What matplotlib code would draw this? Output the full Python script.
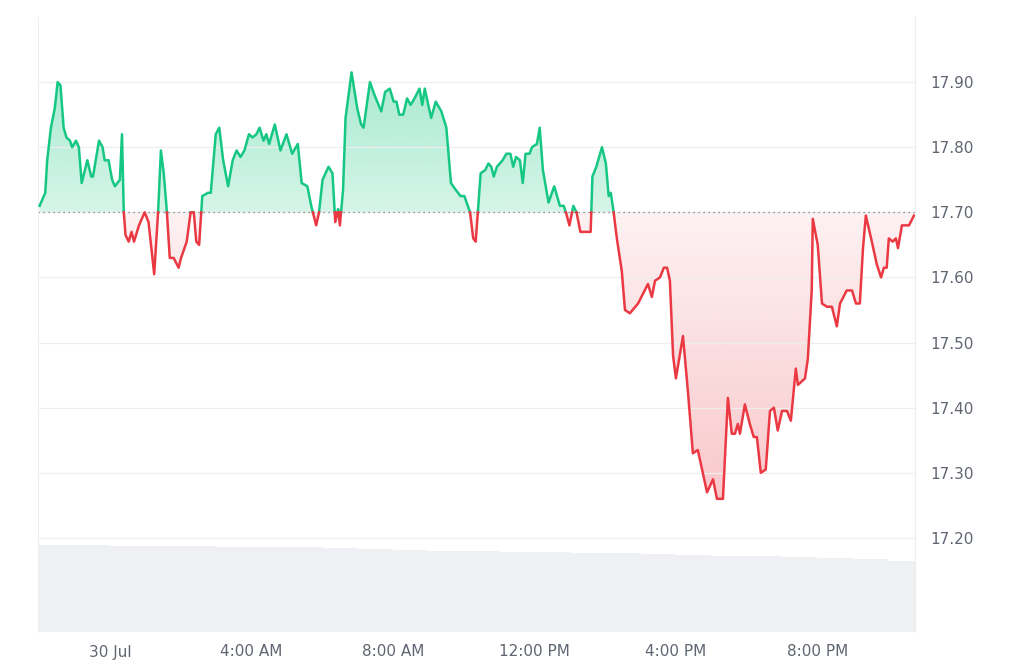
import numpy as np
import matplotlib
matplotlib.use("Agg")
import matplotlib.pyplot as plt
from matplotlib.patches import Polygon

# price series, hours since 30 Jul 00:00
hours = [-1.99, -1.83, -1.775, -1.67, -1.56, -1.48, -1.40, -1.31, -1.23, -1.13, -1.07, -0.96, -0.88,
         -0.80, -0.64, -0.53, -0.48, -0.31, -0.21, -0.15, -0.04, 0.06, 0.14, 0.28, 0.34, 0.39, 0.44,
         0.53, 0.61, 0.68, 0.82, 0.98, 1.09, 1.25, 1.36, 1.44, 1.52, 1.61, 1.69, 1.80, 1.94, 2.01,
         2.17, 2.28, 2.37, 2.44, 2.52, 2.61, 2.77, 2.85, 2.99, 3.09, 3.20, 3.34, 3.47, 3.58, 3.69,
         3.80, 3.93, 4.03, 4.14, 4.23, 4.34, 4.42, 4.50, 4.66, 4.82, 4.99, 5.15, 5.31, 5.42, 5.58,
         5.69, 5.83, 5.91, 6.01, 6.18, 6.29, 6.37, 6.45, 6.50, 6.59, 6.66, 6.83, 6.99, 7.10, 7.17,
         7.35, 7.48, 7.67, 7.78, 7.91, 8.02, 8.10, 8.18, 8.29, 8.40, 8.50, 8.61, 8.75, 8.83, 8.90,
         9.08, 9.21, 9.37, 9.51, 9.64, 9.77, 9.91, 10.02, 10.18, 10.27, 10.34, 10.48, 10.61, 10.70,
         10.78, 10.85, 10.94, 11.10, 11.21, 11.32, 11.40, 11.48, 11.59, 11.67, 11.75, 11.86, 11.93,
         12.07, 12.15, 12.24, 12.40, 12.56, 12.72, 12.83, 12.89, 12.99, 13.10, 13.19, 13.30, 13.48,
         13.59, 13.64, 13.75, 13.91, 14.02, 14.10, 14.16, 14.24,
         14.33, 14.47, 14.56, 14.70, 14.93, 15.21, 15.32, 15.41, 15.55, 15.66, 15.75, 15.83, 15.92,
         16.00, 16.20, 16.34, 16.48, 16.62, 16.88, 17.05, 17.16, 17.33, 17.47, 17.58, 17.67, 17.75,
         17.81, 17.95, 18.09, 18.20, 18.29, 18.40, 18.54, 18.66, 18.77, 18.88, 19.00, 19.14, 19.25,
         19.39, 19.45, 19.65, 19.73, 19.84, 19.87, 20.01, 20.13, 20.27, 20.41, 20.55, 20.64, 20.83,
         20.98, 21.09, 21.20, 21.29, 21.37, 21.54, 21.68, 21.80, 21.88, 21.96, 22.02, 22.13, 22.22,
         22.28, 22.39, 22.47, 22.59, 22.73]
prices = [17.71, 17.73, 17.78, 17.83, 17.86, 17.90, 17.895, 17.83, 17.815, 17.81, 17.80, 17.81, 17.80,
          17.745, 17.78, 17.755, 17.755, 17.81, 17.80, 17.78, 17.78, 17.75, 17.74, 17.75, 17.82, 17.70,
          17.665, 17.655, 17.67, 17.655, 17.68, 17.70, 17.685, 17.605, 17.70, 17.795, 17.76, 17.70,
          17.63, 17.63, 17.615, 17.63, 17.655, 17.70, 17.70, 17.655, 17.65, 17.725, 17.73, 17.73,
          17.82, 17.83, 17.78, 17.74, 17.78, 17.795, 17.785, 17.795, 17.82, 17.815, 17.82, 17.83,
          17.81, 17.82, 17.805, 17.835, 17.795, 17.82, 17.79, 17.805, 17.745, 17.74, 17.71, 17.68,
          17.70, 17.75, 17.77, 17.76, 17.685, 17.705, 17.68, 17.735, 17.845, 17.915, 17.86, 17.835,
          17.83, 17.90, 17.88, 17.855, 17.885, 17.89, 17.87, 17.87, 17.85, 17.85, 17.875, 17.865,
          17.875, 17.89, 17.865, 17.89, 17.845, 17.87, 17.855, 17.83, 17.745, 17.735, 17.725, 17.725,
          17.70, 17.66, 17.655, 17.76, 17.765, 17.775, 17.77, 17.755, 17.77, 17.78, 17.79, 17.79,
          17.77, 17.785, 17.78, 17.745, 17.79, 17.79, 17.80, 17.805, 17.83, 17.765, 17.715, 17.74,
          17.71, 17.71, 17.70, 17.68, 17.71, 17.70, 17.67, 17.67, 17.67, 17.755, 17.77, 17.80,
          17.775, 17.725, 17.73, 17.70,
          17.66, 17.61, 17.55, 17.545, 17.56, 17.59, 17.57, 17.595, 17.60, 17.615, 17.615, 17.595,
          17.48, 17.445, 17.51, 17.425, 17.33, 17.335, 17.27, 17.29, 17.26, 17.26, 17.415, 17.36,
          17.36, 17.375, 17.36, 17.405, 17.375, 17.355, 17.355, 17.30, 17.305, 17.395, 17.40, 17.365,
          17.395, 17.395, 17.38, 17.46, 17.435, 17.445, 17.475, 17.58, 17.69, 17.65, 17.56, 17.555,
          17.555, 17.525, 17.56, 17.58, 17.58, 17.56, 17.56, 17.645, 17.695, 17.655, 17.62, 17.60,
          17.615, 17.615, 17.66, 17.655, 17.66, 17.645, 17.68, 17.68, 17.68, 17.695]
baseline = 17.70

vol_hours = list(range(-2, 23))
volume = [87, 87, 86, 86, 86, 85, 85, 85, 84, 83, 82, 81, 81, 80, 80, 79, 79, 78, 77, 76, 76, 75,
          74, 73, 71]

xtick_hours = [0, 4, 8, 12, 16, 20]
xtick_labels = ["30 Jul", "4:00 AM", "8:00 AM", "12:00 PM", "4:00 PM", "8:00 PM"]
ytick_vals = [17.20, 17.30, 17.40, 17.50, 17.60, 17.70, 17.80, 17.90]

GREEN = "#16c784"
RED = "#ea3943"
x0, x1 = -2.035, 22.76
y0, y1 = 17.0555, 18.0

fig = plt.figure(figsize=(10.24, 6.69), dpi=100)
ax = fig.add_axes([38 / 1024, 37 / 669, 877 / 1024, 615 / 669])
ax.set_xlim(x0, x1)
ax.set_ylim(y0, y1)

# volume on a twin axis at the bottom
axv = ax.twinx()
axv.bar(vol_hours, volume, width=1.0, color="#eef0f3", edgecolor="none", align="edge", zorder=0)
axv.set_ylim(0, 615)
axv.set_xlim(x0, x1)
axv.set_yticks([])
for s in axv.spines.values():
    s.set_visible(False)
ax.set_zorder(axv.get_zorder() + 1)
ax.patch.set_visible(False)

# insert crossing points at the baseline
t = np.array(hours)
p = np.array(prices)
xs, ys = [t[0]], [p[0]]
for i in range(1, len(t)):
    a, b = p[i - 1] - baseline, p[i] - baseline
    if a * b < 0:
        tc = t[i - 1] + (t[i] - t[i - 1]) * a / (a - b)
        xs.append(tc)
        ys.append(baseline)
    xs.append(t[i])
    ys.append(p[i])
xs, ys = np.array(xs), np.array(ys)

# gradient fills clipped to the area polygons
def grad_fill(mask_above, color, top_alpha, bot_alpha, lo, hi):
    yy = np.clip(ys, baseline, None) if mask_above else np.clip(ys, None, baseline)
    verts = np.column_stack([np.r_[xs[0], xs, xs[-1]], np.r_[baseline, yy, baseline]])
    poly = Polygon(verts, closed=True, facecolor="none", edgecolor="none")
    ax.add_patch(poly)
    rgb = matplotlib.colors.to_rgb(color)
    grad = np.zeros((256, 1, 4))
    grad[:, 0, :3] = rgb
    grad[:, 0, 3] = np.linspace(bot_alpha, top_alpha, 256)
    im = ax.imshow(grad, extent=[x0, x1, lo, hi], origin="lower", aspect="auto", zorder=1)
    im.set_clip_path(poly)

grad_fill(True, GREEN, 0.38, 0.18, baseline, 17.92)
grad_fill(False, RED, 0.07, 0.28, 17.25, baseline)

# line segments coloured by side of the baseline
above = np.ma.masked_where(ys < baseline, ys)
below = np.ma.masked_where(ys > baseline, ys)
ax.plot(xs, above, color=GREEN, lw=1.8, zorder=3, solid_joinstyle="round")
ax.plot(xs, below, color=RED, lw=1.8, zorder=3, solid_joinstyle="round")
ax.axhline(baseline, color="#777777", lw=0.9, ls=(0, (1, 3)), zorder=2)

ax.set_yticks(ytick_vals)
ax.yaxis.tick_right()
ax.set_yticklabels([f"{v:.2f}" for v in ytick_vals])
ax.grid(axis="y", color="#eeeeee", lw=0.9)
ax.set_xticks(xtick_hours)
ax.set_xticklabels(xtick_labels)
ax.tick_params(length=0, colors="#5f6672", labelsize=11)
ax.tick_params(axis="y", pad=11)
ax.tick_params(axis="x", pad=9)
for name, s in ax.spines.items():
    if name in ("left", "right"):
        s.set_color("#eeeeee")
    else:
        s.set_visible(False)

fig.savefig("out.png", dpi=100, facecolor="white")
